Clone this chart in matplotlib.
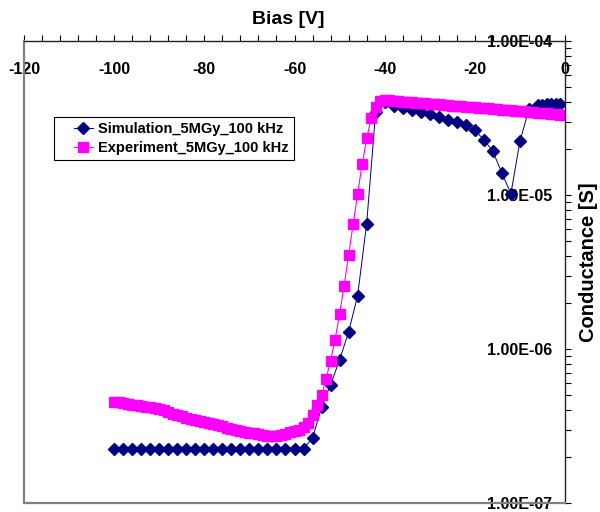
import matplotlib
matplotlib.use("Agg")
import matplotlib.pyplot as plt
from matplotlib.legend_handler import HandlerLine2D
from matplotlib.ticker import MultipleLocator, LogLocator, FuncFormatter

# ── Data ────────────────────────────────────────────────────────────────────
SIM_LABEL = "Simulation_5MGy_100 kHz"
EXP_LABEL = "Experiment_5MGy_100 kHz"

# Simulation: every 2 V from -100 to -8, then every 1 V near 0
SIM_BIAS = list(range(-100, -6, 2)) + [-6, -5, -4, -3, -2, -1]
SIM_G = [
    2.25e-7, 2.25e-7, 2.25e-7, 2.25e-7, 2.25e-7, 2.25e-7, 2.25e-7, 2.25e-7,
    2.25e-7, 2.25e-7, 2.25e-7, 2.25e-7, 2.25e-7, 2.25e-7, 2.25e-7, 2.25e-7,
    2.25e-7, 2.25e-7, 2.25e-7, 2.25e-7, 2.25e-7, 2.25e-7,
    2.64e-7, 4.18e-7, 5.86e-7, 8.5e-7, 1.29e-6, 2.22e-6, 6.5e-6, 3.44e-5,
    4.0e-5, 3.8e-5, 3.65e-5, 3.55e-5, 3.45e-5, 3.35e-5, 3.2e-5, 3.08e-5,
    2.97e-5, 2.84e-5, 2.63e-5, 2.29e-5, 1.92e-5, 1.39e-5, 1.02e-5, 2.23e-5,
    3.6e-5,
    3.82e-5, 3.86e-5, 3.88e-5, 3.9e-5, 3.92e-5, 3.92e-5,
]

# Experiment: every 1 V from -100 to 0
EXP_BIAS = list(range(-100, 1))
EXP_G = [
    4.55e-7, 4.50e-7, 4.45e-7, 4.40e-7, 4.35e-7, 4.30e-7, 4.27e-7, 4.23e-7,
    4.20e-7, 4.13e-7, 4.07e-7, 4.00e-7, 3.90e-7, 3.80e-7, 3.72e-7, 3.65e-7,
    3.57e-7, 3.50e-7, 3.45e-7, 3.40e-7, 3.35e-7, 3.30e-7, 3.25e-7, 3.20e-7,
    3.14e-7, 3.08e-7, 3.02e-7, 2.96e-7, 2.92e-7, 2.88e-7, 2.85e-7, 2.83e-7,
    2.80e-7, 2.77e-7, 2.74e-7, 2.72e-7, 2.74e-7, 2.77e-7, 2.82e-7, 2.87e-7,
    2.92e-7, 3.00e-7, 3.10e-7, 3.30e-7,
    3.70e-7, 4.30e-7, 5.00e-7, 6.40e-7, 8.40e-7, 1.15e-6, 1.69e-6, 2.58e-6,
    4.06e-6, 6.44e-6, 1.02e-5, 1.58e-5, 2.33e-5, 3.14e-5, 3.74e-5, 4.09e-5,
    4.13e-5, 4.11e-5, 4.09e-5, 4.06e-5, 4.04e-5, 4.02e-5, 4.00e-5, 3.98e-5,
    3.96e-5, 3.93e-5, 3.91e-5, 3.89e-5, 3.87e-5, 3.85e-5, 3.83e-5, 3.81e-5,
    3.79e-5, 3.77e-5, 3.75e-5, 3.73e-5, 3.71e-5, 3.69e-5, 3.67e-5, 3.65e-5,
    3.63e-5, 3.61e-5, 3.59e-5, 3.57e-5, 3.55e-5, 3.53e-5, 3.51e-5, 3.49e-5,
    3.47e-5, 3.45e-5, 3.43e-5, 3.41e-5, 3.39e-5, 3.37e-5, 3.35e-5, 3.33e-5,
    3.30e-5,
]

X_LABEL = "Bias [V]"
Y_LABEL = "Conductance [S]"

# ── Plot ────────────────────────────────────────────────────────────────────
plt.rcParams["font.family"] = ["Liberation Sans", "DejaVu Sans"]
plt.rcParams["font.weight"] = "bold"
plt.rcParams["axes.unicode_minus"] = False

fig = plt.figure(figsize=(6.0, 5.12), dpi=100)
ax = fig.add_axes([24 / 600, 1 - 503 / 512, 541 / 600, 462 / 512])

sim_line, = ax.plot(SIM_BIAS, SIM_G, color="#000080", lw=0.7, marker="D",
                    ms=6, mfc="#000080", mec="#000080", label=SIM_LABEL)
exp_line, = ax.plot(EXP_BIAS, EXP_G, color="#FF00FF", lw=0.8, marker="s",
                    ms=7, mfc="#FF00FF", mec="#FF00FF", label=EXP_LABEL)

ax.set_yscale("log")
ax.set_xlim(-120, 0)
ax.set_ylim(1e-7, 1e-4)

# x axis on top, labels drawn inside the plot area
ax.xaxis.tick_top()
ax.xaxis.set_major_locator(MultipleLocator(20))
ax.xaxis.set_minor_locator(MultipleLocator(4))
ax.tick_params(axis="x", which="both", direction="out", length=4, width=0.8,
               top=True, bottom=False, labeltop=True, labelbottom=False,
               pad=-30, labelsize=11.5)

# y axis on right, labels drawn left of the axis line
ax.yaxis.tick_right()
ax.yaxis.set_major_locator(LogLocator(base=10))
ax.yaxis.set_minor_locator(LogLocator(base=10, subs=range(2, 10)))
ax.yaxis.set_major_formatter(FuncFormatter(lambda v, _: f"{v:.2E}"))
ax.tick_params(axis="y", which="both", direction="out", length=4, width=0.8,
               right=True, left=False, labelright=True, labelleft=False,
               pad=-13, labelsize=11.5)
plt.setp(ax.get_yticklabels(), ha="right")

ax.spines["top"].set_color("#222222")
ax.spines["right"].set_color("#222222")
ax.spines["top"].set_linewidth(1.0)
ax.spines["right"].set_linewidth(1.0)
ax.spines["left"].set_color("#808080")
ax.spines["bottom"].set_color("#808080")
ax.spines["left"].set_linewidth(1.6)
ax.spines["bottom"].set_linewidth(1.6)

fig.text(288 / 600, 1 - 19 / 512, X_LABEL, ha="center", va="center",
         fontsize=14, fontweight="bold")
fig.text(589 / 600, 1 - 262 / 512, Y_LABEL, ha="center", va="center",
         rotation=90, fontsize=14.5, fontweight="bold")

leg = ax.legend(loc="upper left", bbox_to_anchor=(0.0555, 0.8355),
                borderaxespad=0, fancybox=False, framealpha=1,
                edgecolor="black", fontsize=10.5, handlelength=2.3,
                handletextpad=0.35, borderpad=0.35, labelspacing=0.35,
                handler_map={sim_line: HandlerLine2D(xpad=1.0, numpoints=1),
                             exp_line: HandlerLine2D(xpad=1.0, numpoints=1)})
leg.get_frame().set_linewidth(0.8)

fig.savefig("out.png", dpi=100)
